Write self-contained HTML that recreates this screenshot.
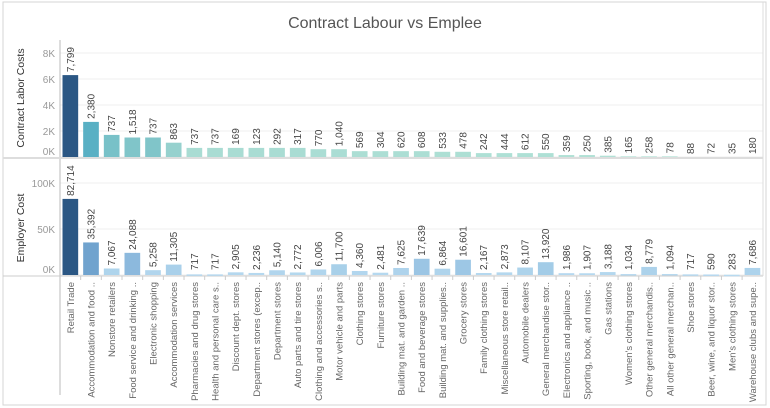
<!DOCTYPE html>
<html><head><meta charset="utf-8"><style>
body{margin:0;background:#fff;}
svg{display:block;font-family:"Liberation Sans",sans-serif;}
</style></head><body>
<svg id="chart" width="770" height="408" viewBox="0 0 770 408" xmlns="http://www.w3.org/2000/svg">
<rect x="0" y="0" width="770" height="408" fill="#fff"/>
<rect x="3" y="2" width="763" height="403" fill="none" stroke="#d4d4d4" stroke-width="1"/>
<text x="385" y="28" text-anchor="middle" font-size="16" fill="#555">Contract Labour vs Emplee</text>
<g id="g"></g>
</svg>
<script>
const categories=["Retail Trade","Accommodation and food ..","Nonstore retailers","Food service and drinking ..","Electronic shopping","Accommodation services","Pharmacies and drug stores","Health and personal care s..","Discount dept. stores","Department stores (excep..","Department stores","Auto parts and tire stores","Clothing and accessories s..","Motor vehicle and parts","Clothing stores","Furniture stores","Building mat. and garden ..","Food and beverage stores","Building mat. and supplies..","Grocery stores","Family clothing stores","Miscellaneous store retail..","Automobile dealers","General merchandise stor..","Electronics and appliance ..","Sporting, book, and music ..","Gas stations","Women's clothing stores","Other general merchandis..","All other general merchan..","Shoe stores","Beer, wine, and liquor stor..","Men's clothing stores","Warehouse clubs and supe.."];
const contractLabels=[7799,2380,737,1518,737,863,737,737,169,123,292,317,770,1040,569,304,620,608,533,478,242,444,612,550,359,250,385,165,258,78,88,72,35,180];
const contractBars=[6300,2700,1700,1500,1500,1100,700,700,700,700,700,700,600,600,450,450,450,450,400,400,300,300,300,300,150,150,100,50,50,50,0,0,0,0];
const employerCost=[82714,35392,7067,24088,5258,11305,717,717,2905,2236,5140,2772,6006,11700,4360,2481,7625,17639,6864,16601,2167,2873,8107,13920,1986,1907,3188,1034,8779,1094,717,590,283,7686];
const topTicks=[0,2000,4000,6000,8000];
const botTicks=[0,50000,100000];
const NS="http://www.w3.org/2000/svg";
const g=document.getElementById('g');
function mk(t,a,txt){const e=document.createElementNS(NS,t);for(const k in a)e.setAttribute(k,a[k]);if(txt!==undefined)e.textContent=txt;g.appendChild(e);return e;}
const x0=60,colW=20.67;
const xs=i=>x0+i*colW;
const yTop=v=>157-v*13/1000;
const yBot=v=>275-v*46/50000;
function lerp(a,b,t){return a.map((c,i)=>Math.round(c+(b[i]-c)*t));}
function col(stops,t){t=Math.max(0,Math.min(1,t));for(let k=0;k<stops.length-1;k++){const [p0,c0]=stops[k],[p1,c1]=stops[k+1];if(t<=p1)return 'rgb('+lerp(c0,c1,(t-p0)/(p1-p0)).join(',')+')';}return 'rgb(43,87,132)';}
const topStops=[[0,[178,226,214]],[0.12,[168,220,211]],[0.25,[124,195,200]],[0.45,[85,174,196]],[1,[43,87,132]]];
const botStops=[[0,[184,218,240]],[0.15,[167,207,233]],[0.3,[138,184,220]],[0.45,[107,159,203]],[1,[43,87,132]]];
topTicks.forEach(v=>{const l=mk('line',{x1:x0,x2:763,y1:yTop(v),y2:yTop(v),stroke:'#efefef'});

const t=mk('text',{x:55,y:yTop(v)+(v==0?-2:4),'text-anchor':'end','font-size':10,fill:'#999'},(v/1000)+'K');
});
botTicks.forEach(v=>{const l=mk('line',{x1:x0,x2:763,y1:yBot(v),y2:yBot(v),stroke:'#efefef'});

const t=mk('text',{x:55,y:yBot(v)+(v==0?-2:4),'text-anchor':'end','font-size':10,fill:'#999'},(v/1000)+'K');
});
let e;
e=mk('line',{x1:x0,x2:x0,y1:40,y2:395,stroke:'#bbb'});
e=mk('line',{x1:3,x2:763,y1:158,y2:158,stroke:'#ddd','stroke-width':2});
e=mk('line',{x1:3,x2:763,y1:276,y2:276,stroke:'#ccc'});
e=mk('line',{x1:763,x2:763,y1:2,y2:276,stroke:'#ddd'});
e=mk('text',{x:0,y:0,transform:'translate(24,98) rotate(-90)','text-anchor':'middle','font-size':10.5,fill:'#333'},'Contract Labor Costs');

e=mk('text',{x:0,y:0,transform:'translate(24,228) rotate(-90)','text-anchor':'middle','font-size':10.5,fill:'#333'},'Employer Cost');

const maxC=Math.max(...contractBars),maxE=Math.max(...employerCost);
categories.forEach((c,i)=>{
 const bx=xs(i)+2.5,bw=colW-5,cx=xs(i)+colW/2;
 const ht=yTop(0)-yTop(contractBars[i]);
 const r1=mk('rect',{x:bx,y:yTop(contractBars[i]),width:bw,height:Math.max(ht,0),fill:col(topStops,contractBars[i]/maxC)});
 
 const t1=mk('text',{x:0,y:0,transform:`translate(${cx+3.5},${yTop(contractBars[i])-3}) rotate(-90)`,'font-size':10,fill:'#444'},contractLabels[i].toLocaleString('en-US'));
 
 const hb=yBot(0)-yBot(employerCost[i]);
 const r2=mk('rect',{x:bx,y:yBot(employerCost[i]),width:bw,height:Math.max(hb,1.5),fill:col(botStops,employerCost[i]/maxE)});
 
 const t2=mk('text',{x:0,y:0,transform:`translate(${cx+3.5},${Math.min(yBot(employerCost[i]),273)-3}) rotate(-90)`,'font-size':10,fill:'#444'},employerCost[i].toLocaleString('en-US'));
 
 const t3=mk('text',{x:0,y:0,transform:`translate(${cx+3.5},282) rotate(-90)`,'text-anchor':'end','font-size':9.5,fill:'#666'},c);
 
 if(i>0){const tk=mk('line',{x1:xs(i),x2:xs(i),y1:276,y2:280,stroke:'#ccc'});}
});
</script>
</body></html>
